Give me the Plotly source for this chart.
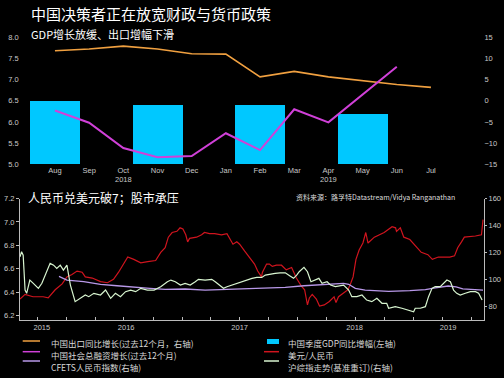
import plotly.graph_objects as go

# ---------------- top chart data ----------------
months = ["Aug", "Sep", "Oct", "Nov", "Dec", "Jan", "Feb", "Mar", "Apr", "May", "Jun", "Jul"]
month_year = {"Oct": "2018", "Apr": "2019"}
exports_yoy = [11.9, 12.3, 13.0, 12.3, 11.2, 11.1, 5.7, 7.0, 5.7, 4.8, 3.9, 3.2]
tsf_months = ["Aug", "Sep", "Oct", "Nov", "Dec", "Jan", "Feb", "Mar", "Apr", "May", "Jun"]
tsf_growth = [-2.3, -5.2, -11.2, -13.4, -13.1, -7.7, -11.7, -2.0, -5.1, 1.5, 8.1]
gdp_months = ["Aug", "Nov", "Feb", "May"]
gdp_yoy = [6.5, 6.4, 6.4, 6.2]

# ---------------- bottom chart data ----------------
usdcny_dates = ["2015-08-08", "2015-08-24", "2015-09-18", "2015-10-20", "2015-11-05", "2015-11-27", "2015-12-19",
                "2016-01-03", "2016-01-19", "2016-02-04", "2016-02-20", "2016-03-01", "2016-03-23", "2016-04-18",
                "2016-05-10", "2016-05-29", "2016-06-14", "2016-06-30", "2016-07-13", "2016-08-01", "2016-08-23",
                "2016-09-14", "2016-10-09", "2016-10-25", "2016-11-08", "2016-11-18", "2016-11-30", "2016-12-15",
                "2016-12-25", "2017-01-03", "2017-01-12", "2017-01-18", "2017-01-24", "2017-02-15", "2017-03-03",
                "2017-03-12", "2017-03-28", "2017-04-13", "2017-05-05", "2017-05-22", "2017-06-01", "2017-06-10",
                "2017-06-22", "2017-07-01", "2017-07-17", "2017-08-01", "2017-08-17", "2017-08-27", "2017-09-08",
                "2017-09-11", "2017-09-24", "2017-10-03", "2017-10-12", "2017-10-25", "2017-11-10", "2017-11-25",
                "2017-12-12", "2017-12-27", "2018-01-12", "2018-01-22", "2018-01-28", "2018-01-31", "2018-02-06",
                "2018-02-15", "2018-02-28", "2018-03-10", "2018-03-25", "2018-04-10", "2018-04-25", "2018-05-01",
                "2018-05-09", "2018-05-25", "2018-06-08", "2018-06-17", "2018-06-24", "2018-07-03", "2018-07-13",
                "2018-07-25", "2018-08-03", "2018-08-10", "2018-08-30", "2018-09-30", "2018-10-25", "2018-11-05",
                "2018-11-08", "2018-11-20", "2018-12-01", "2018-12-20", "2019-01-10", "2019-01-25", "2019-02-15",
                "2019-03-01", "2019-03-20", "2019-04-25", "2019-05-10", "2019-05-20", "2019-06-01", "2019-06-10",
                "2019-07-15", "2019-08-03", "2019-08-08"]
usdcny = [6.34, 6.38, 6.36, 6.36, 6.35, 6.42, 6.47,
          6.53, 6.55, 6.58, 6.57, 6.53, 6.52, 6.49,
          6.48, 6.51, 6.57, 6.64, 6.70, 6.68, 6.65,
          6.66, 6.67, 6.74, 6.78, 6.87, 6.91, 6.92,
          6.95, 6.94, 6.89, 6.83, 6.86, 6.87, 6.89,
          6.91, 6.90, 6.90, 6.89, 6.90, 6.85, 6.81,
          6.83, 6.81, 6.75, 6.70, 6.64, 6.58, 6.53,
          6.57, 6.64, 6.64, 6.62, 6.63, 6.63, 6.59,
          6.61, 6.52, 6.45, 6.42, 6.35, 6.29, 6.35,
          6.38, 6.34, 6.28, 6.29, 6.32, 6.36, 6.31,
          6.36, 6.39, 6.42, 6.48, 6.53, 6.68, 6.76,
          6.82, 6.91, 6.82, 6.87, 6.91, 6.96, 6.95,
          6.92, 6.95, 6.87, 6.85, 6.78, 6.74, 6.72,
          6.68, 6.70, 6.70, 6.71, 6.78, 6.83, 6.87,
          6.88, 6.89, 7.02]

cfets_dates = ["2015-12-09", "2016-01-03", "2016-02-25", "2016-04-18", "2016-06-09", "2016-07-30", "2016-09-21",
               "2016-11-08", "2017-01-10", "2017-03-14", "2017-05-15", "2017-07-20", "2017-09-20", "2017-11-22",
               "2018-01-20", "2018-03-25", "2018-05-25", "2018-06-10", "2018-07-01", "2018-08-01", "2018-10-14",
               "2018-12-20", "2019-02-07", "2019-03-10", "2019-04-20", "2019-05-15", "2019-06-05", "2019-08-08"]
cfets = [102.4, 99.6, 98.4, 96.4, 95.4, 94.2, 93.5,
         92.7, 93.0, 92.2, 92.7, 93.5, 94.2, 94.2,
         95.4, 96.4, 97.2, 96.5, 93.5, 92.2, 91.3,
         91.8, 92.5, 93.8, 95.2, 94.5, 93.0, 92.2]

sse_dates = ["2015-08-08", "2015-08-13", "2015-08-18", "2015-08-24", "2015-08-29", "2015-09-08", "2015-09-19",
             "2015-10-05", "2015-10-16", "2015-10-26", "2015-11-11", "2015-11-22", "2015-12-02", "2015-12-13",
             "2015-12-23", "2016-01-03", "2016-01-14", "2016-01-29", "2016-02-14", "2016-03-01", "2016-03-12",
             "2016-03-28", "2016-04-18", "2016-05-04", "2016-05-20", "2016-06-04", "2016-06-20", "2016-07-06",
             "2016-07-22", "2016-08-07", "2016-08-23", "2016-09-13", "2016-10-04", "2016-10-25", "2016-11-15",
             "2016-11-26", "2016-12-10", "2016-12-26", "2017-01-10", "2017-01-26", "2017-02-11", "2017-02-21",
             "2017-03-14", "2017-04-04", "2017-04-15", "2017-04-30", "2017-05-11", "2017-05-22", "2017-06-06",
             "2017-06-22", "2017-07-08", "2017-07-24", "2017-08-09", "2017-08-24", "2017-09-09", "2017-09-20",
             "2017-10-05", "2017-10-21", "2017-11-06", "2017-11-22", "2017-12-07", "2017-12-18", "2017-12-28",
             "2018-01-05", "2018-01-20", "2018-01-31", "2018-02-11", "2018-02-26", "2018-03-08", "2018-03-18",
             "2018-04-03", "2018-04-14", "2018-04-29", "2018-05-25", "2018-06-10", "2018-06-20", "2018-07-06",
             "2018-07-22", "2018-08-06", "2018-08-22", "2018-09-07", "2018-09-23", "2018-10-08", "2018-10-14",
             "2018-11-04", "2018-11-25", "2018-12-16", "2019-01-01", "2019-01-06", "2019-01-22", "2019-02-07",
             "2019-02-17", "2019-02-28", "2019-03-10", "2019-03-26", "2019-04-05", "2019-04-16", "2019-04-27",
             "2019-05-07", "2019-05-17", "2019-05-28", "2019-06-13", "2019-06-29", "2019-07-15", "2019-07-25",
             "2019-08-05"]
sse = [116.9, 120.6, 118.1, 92.2, 89.8, 99.6, 97.2,
       93.5, 97.2, 103.3, 112.0, 110.7, 108.3, 110.7,
       107.0, 110.7, 95.9, 83.6, 86.1, 88.5, 87.3,
       89.8, 88.5, 92.2, 86.1, 89.8, 87.3, 91.0,
       92.2, 91.0, 93.5, 92.2, 92.2, 94.7, 98.4,
       99.6, 98.4, 95.9, 97.2, 95.9, 98.4, 100.2,
       99.6, 100.2, 98.4, 95.9, 93.5, 94.7, 95.9,
       97.2, 98.4, 99.6, 100.9, 101.6, 101.6, 103.3,
       104.1, 104.6, 105.0, 105.0, 102.6, 100.9, 103.3,
       105.8, 109.0, 105.8, 98.4, 99.6, 100.9, 97.2,
       98.4, 95.9, 94.7, 95.9, 92.2, 87.3, 87.3,
       88.5, 84.8, 83.6, 86.1, 82.4, 82.4, 78.7,
       79.9, 78.7, 77.4, 76.1, 78.7, 78.7, 79.9,
       87.3, 93.5, 94.7, 94.7, 97.2, 99.6, 98.4,
       92.2, 89.8, 88.5, 89.8, 91.0, 91.0, 89.8,
       84.8]

# year labels of the bottom axis, centred on the visible part of each year
year_label_dates = ["2015-10-16", "2016-07-08", "2017-07-01", "2018-06-29", "2019-04-20"]
year_labels = ["2015", "2016", "2017", "2018", "2019"]

title_main = "中国决策者正在放宽财政与货币政策"
title_top = "GDP增长放缓、出口增幅下滑"
title_bottom = "人民币兑美元破7；股市承压"
source_text = "资料来源：路孚特Datastream/Vidya Ranganathan"

legend_items = [
    ("中国出口同比增长(过去12个月，右轴)", "#F0A040", "line"),
    ("中国社会总融资增长(过去12个月)", "#D040D8", "line"),
    ("CFETS人民币指数(右轴)", "#B898E8", "line"),
    ("中国季度GDP同比增幅(左轴)", "#00C8FF", "box"),
    ("美元/人民币", "#D0141E", "line"),
    ("沪综指走势(基准重订)(右轴)", "#D8F5D0", "line"),
]

# ---------------- styles ----------------
W, H = 504, 378
FONT = "Liberation Sans, Arial, Noto Sans CJK SC, sans-serif"
CJK = "Noto Sans CJK SC, sans-serif"
TICK_COLOR = "#c8c8c8"
AXIS_COLOR = "#bbbbbb"
ORANGE, MAGENTA, LAVENDER, CYAN, RED, PALE = [c for _, c, _ in legend_items]

idx = {m: i for i, m in enumerate(months)}
ticktext = [m + ("<br>" + month_year[m] if m in month_year else "") for m in months]

def px_x(p):
    return p / W

def px_y(p):
    return 1 - p / H

fig = go.Figure()

# top chart
fig.add_trace(go.Bar(x=[idx[m] for m in gdp_months], y=gdp_yoy, width=1.46, marker=dict(color=CYAN, line=dict(width=0)),
                     xaxis="x", yaxis="y", showlegend=False))
fig.add_trace(go.Scatter(x=[idx[m] for m in months], y=exports_yoy, mode="lines", line=dict(color=ORANGE, width=1.6),
                         xaxis="x", yaxis="y2", showlegend=False))
fig.add_trace(go.Scatter(x=[idx[m] for m in tsf_months], y=tsf_growth, mode="lines", line=dict(color=MAGENTA, width=2),
                         xaxis="x", yaxis="y2", showlegend=False))

# bottom chart
fig.add_trace(go.Scatter(x=cfets_dates, y=cfets, mode="lines", line=dict(color=LAVENDER, width=1.3),
                         xaxis="x3", yaxis="y4", showlegend=False))
fig.add_trace(go.Scatter(x=sse_dates, y=sse, mode="lines", line=dict(color=PALE, width=1.2),
                         xaxis="x3", yaxis="y4", showlegend=False))
fig.add_trace(go.Scatter(x=usdcny_dates, y=usdcny, mode="lines", line=dict(color=RED, width=1.2),
                         xaxis="x3", yaxis="y3", showlegend=False))

tickfont = dict(family=FONT, size=7.5, color=TICK_COLOR)
top_dom_y = [px_y(164), px_y(37.7)]
bot_dom_y = [px_y(320), px_y(198.5)]
common = dict(automargin=False, showgrid=False, zeroline=False, tickfont=tickfont)

fig.update_layout(
    template="none",
    width=W, height=H,
    margin=dict(l=0, r=0, t=0, b=0, pad=0),
    paper_bgcolor="black", plot_bgcolor="black",
    font=dict(family=FONT, color=TICK_COLOR),
    bargap=0,
    hovermode=False,
    xaxis=dict(domain=[px_x(27.6), px_x(475.4)], range=[-0.8, 12.3], anchor="y",
               tickmode="array", tickvals=[idx[m] for m in months], ticktext=ticktext,
               showline=False, ticks="", **common),
    yaxis=dict(domain=top_dom_y, range=[5, 8], dtick=0.5, tick0=5, tickformat=".1f", anchor="x",
               showline=False, ticks="", ticklabelstandoff=8, **common),
    yaxis2=dict(overlaying="y", side="right", range=[-15, 15], dtick=5, tick0=0, anchor="x",
                showline=False, ticks="", ticklabelstandoff=8, **common),
    xaxis3=dict(domain=[px_x(20), px_x(484)], type="date", range=["2015-08-08", "2019-08-11"], anchor="y3",
                tickmode="array", tickvals=year_label_dates, ticktext=year_labels,
                showline=True, linecolor=AXIS_COLOR, linewidth=1, ticks="",
                minor=dict(tickmode="linear", tick0="2015-01-01", dtick="M3", ticks="inside", ticklen=3,
                           tickcolor=AXIS_COLOR, showgrid=False),
                **common),
    yaxis3=dict(domain=bot_dom_y, range=[6.161, 7.201], dtick=0.2, tick0=6.2, tickformat=".1f", anchor="x3",
                showline=True, linecolor=AXIS_COLOR, ticks="outside", ticklen=3, tickcolor=AXIS_COLOR, **common),
    yaxis4=dict(overlaying="y3", side="right", range=[70, 160.1], dtick=20, tick0=0, anchor="x3",
                showline=True, linecolor=AXIS_COLOR, ticks="outside", ticklen=2, tickcolor=AXIS_COLOR, **common),
)

annotations = [
    dict(text=title_main, x=px_x(29), y=px_y(14), xanchor="left", yanchor="middle",
         font=dict(family=CJK, size=15, color="white")),
    dict(text=title_top, x=px_x(29), y=px_y(34), xanchor="left", yanchor="middle",
         font=dict(family=CJK, size=11, color="white")),
    dict(text=title_bottom, x=px_x(26), y=px_y(197), xanchor="left", yanchor="middle",
         font=dict(family=CJK, size=12, color="white")),
    dict(text=source_text, x=px_x(457), y=px_y(197), xanchor="right", yanchor="middle",
         font=dict(family=CJK, size=7, color="#dddddd")),
]
shapes = []
text_rows = [342.7, 354.5, 366.7]
sample_rows = [341, 351.7, 361]
for i, (label, color, kind) in enumerate(legend_items):
    col, row = divmod(i, 3)
    tx = 49 if col == 0 else 286
    sx0, sx1 = (22.7, 40) if col == 0 else (264, 279)
    annotations.append(dict(text=label, x=px_x(tx), y=px_y(text_rows[row]), xanchor="left", yanchor="middle",
                            font=dict(family=CJK, size=8.5, color="#d8d8d8")))
    if kind == "box":
        shapes.append(dict(type="rect", xref="paper", yref="paper", x0=px_x(267), x1=px_x(279),
                           y0=px_y(344), y1=px_y(339), fillcolor=color, line=dict(width=0)))
    else:
        shapes.append(dict(type="line", xref="paper", yref="paper", x0=px_x(sx0), x1=px_x(sx1),
                           y0=px_y(sample_rows[row]), y1=px_y(sample_rows[row]), line=dict(color=color, width=1.5)))
for a in annotations:
    a.update(xref="paper", yref="paper", showarrow=False)
fig.update_layout(annotations=annotations, shapes=shapes)

fig.write_html("out.html", config={"displayModeBar": False},
               post_script="document.body.style.margin='0';document.body.style.background='black';")
